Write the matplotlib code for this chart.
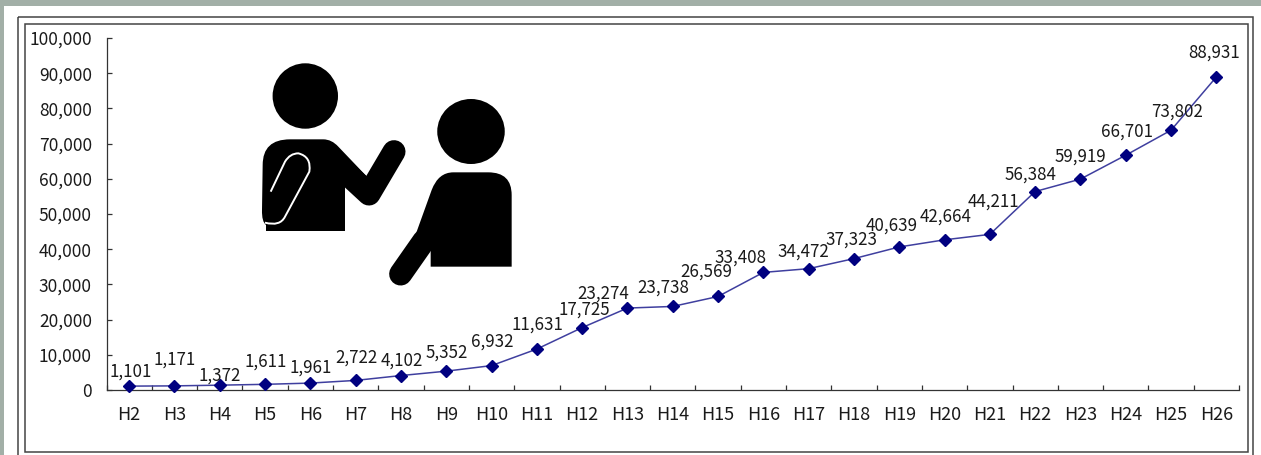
import matplotlib
matplotlib.use("Agg")
import matplotlib.pyplot as plt
from matplotlib.patches import Circle, Ellipse, PathPatch, Rectangle
from matplotlib.path import Path
from matplotlib.ticker import FuncFormatter

W, H = 1261, 455

YEARS = ["H2", "H3", "H4", "H5", "H6", "H7", "H8", "H9", "H10", "H11", "H12", "H13", "H14",
         "H15", "H16", "H17", "H18", "H19", "H20", "H21", "H22", "H23", "H24", "H25", "H26"]
COUNTS = [1101, 1171, 1372, 1611, 1961, 2722, 4102, 5352, 6932, 11631, 17725, 23274, 23738,
          26569, 33408, 34472, 37323, 40639, 42664, 44211, 56384, 59919, 66701, 73802, 88931]

# label offsets from the marker, in image pixels (right, up)
LABEL_DX = [2, 0, 0, 1, 0, 1, 1, 1, 1, 1, 2, -24, -9, -12, -23, -5, -2, -8, 1, 4, -5, 0, 1, 6, -2]
LABEL_DY = [14, 26, 10, 23, 15, 23, 15, 19, 24, 24, 18, 14, 19, 25, 15, 17, 19, 21, 23, 33, 17, 22, 24, 19, 24]

BG = "#a2afa7"
FRAME = "#444444"
FONT = "Noto Sans CJK JP"
TXT = "#1a1a1a"


def px(points):
    # zoomed crop coordinates of the icon -> image pixels
    return [(240 + x / 3, 50 + y / 3) for x, y in points]


def shape(points):
    # points: (x, y) for line segments, (cx, cy, x, y) for a rounded corner
    verts, codes = [], []
    for i, p in enumerate(points):
        if len(p) == 2:
            verts += px([p])
            codes.append(Path.MOVETO if i == 0 else Path.LINETO)
        else:
            verts += px([p[:2], p[2:]])
            codes += [Path.CURVE3, Path.CURVE3]
    verts.append(verts[0])
    codes.append(Path.CLOSEPOLY)
    return Path(verts, codes)


def limb(ax, points):
    xy = px(points)
    ax.plot([p[0] for p in xy], [p[1] for p in xy], color="black", lw=16.6,
            solid_capstyle="round", solid_joinstyle="round")


def main():
    fig = plt.figure(figsize=(W / 100, H / 100), dpi=100, facecolor=BG)

    # slide background, double frame and icon are drawn in image pixels
    bg = fig.add_axes([0, 0, 1, 1])
    bg.set_xlim(0, W)
    bg.set_ylim(H, 0)
    bg.axis("off")
    bg.add_patch(Rectangle((4, 6), W - 4, H, fc="white", ec="none"))
    bg.add_patch(Rectangle((18, 17), 1235, 460, fc="none", ec=FRAME, lw=1.1))
    bg.add_patch(Rectangle((25, 24), 1223, 428, fc="none", ec=FRAME, lw=1.1))

    # person on the left
    bg.add_patch(Circle((305.3, 96), 32.7, fc="black", ec="none"))
    body1 = shape([(78, 543), (78, 525), (65, 515, 66, 480), (68, 345), (68, 268, 150, 268), (250, 268),
                   (275, 268, 295, 290), (378, 377), (385, 430), (315, 410), (315, 543)])
    bg.add_patch(PathPatch(body1, fc="black", ec="none"))
    limb(bg, [(462, 305), (387, 432), (296, 348)])
    pen = Path(px([(92, 425), (135, 335), (150, 310), (175, 310), (215, 320), (208, 365), (135, 500),
                   (120, 530), (75, 518)]),
               [Path.MOVETO, Path.LINETO, Path.CURVE3, Path.CURVE3, Path.CURVE3, Path.CURVE3, Path.LINETO,
                Path.CURVE3, Path.CURVE3])
    bg.add_patch(PathPatch(pen, fc="none", ec="white", lw=1.4))

    # person on the right
    bg.add_patch(Ellipse((471, 131.5), 67.5, 65, fc="black", ec="none"))
    body2 = shape([(572, 650), (815, 650), (815, 435), (815, 367, 745, 367), (640, 367),
                   (595, 367, 575, 420), (530, 545), (520, 600), (572, 600)])
    bg.add_patch(PathPatch(body2, fc="black", ec="none"))
    limb(bg, [(482, 672), (552, 572)])

    # chart
    left, right, top, bottom = 106.5, 1239, 38, 390
    ax = fig.add_axes([left / W, 1 - bottom / H, (right - left) / W, (bottom - top) / H])
    ax.patch.set_alpha(0)
    xs = list(range(len(YEARS)))
    ax.plot(xs, COUNTS, color="#3f3f9f", lw=1.1, marker="D", ms=6.2, mfc="#000080", mec="#000080",
            clip_on=False, zorder=3)

    ax.set_xlim(-0.5, len(YEARS) - 0.5)
    ax.set_ylim(0, 100000)
    ax.set_xticks(xs)
    ax.set_xticklabels(YEARS, family=FONT, fontsize=13, color=TXT)
    ax.set_xticks([x - 0.5 for x in range(len(YEARS) + 1)], minor=True)
    ax.set_yticks(range(0, 100001, 10000))
    ax.yaxis.set_major_formatter(FuncFormatter(lambda v, _: f"{int(v):,}"))
    for lab in ax.get_yticklabels():
        lab.set_family(FONT)
        lab.set_fontsize(12.5)
        lab.set_color(TXT)
    ax.tick_params(axis="x", which="major", length=0, pad=11.5)
    ax.tick_params(axis="x", which="minor", direction="in", length=3.6, width=0.9, color="#333333")
    ax.tick_params(axis="y", direction="in", length=3.6, width=0.9, color="#333333", pad=10.5)
    for side in ["top", "right"]:
        ax.spines[side].set_visible(False)
    for side in ["left", "bottom"]:
        ax.spines[side].set_color("#333333")
        ax.spines[side].set_linewidth(0.9)

    for x, v, dx, dy in zip(xs, COUNTS, LABEL_DX, LABEL_DY):
        ax.annotate(f"{v:,}", (x, v), textcoords="offset points", xytext=(dx * 0.72, dy * 0.72),
                    ha="center", va="center", family=FONT, fontsize=12.2, color=TXT, zorder=4,
                    annotation_clip=False)

    fig.savefig("out.png", dpi=100, facecolor=BG)


if __name__ == "__main__":
    main()
